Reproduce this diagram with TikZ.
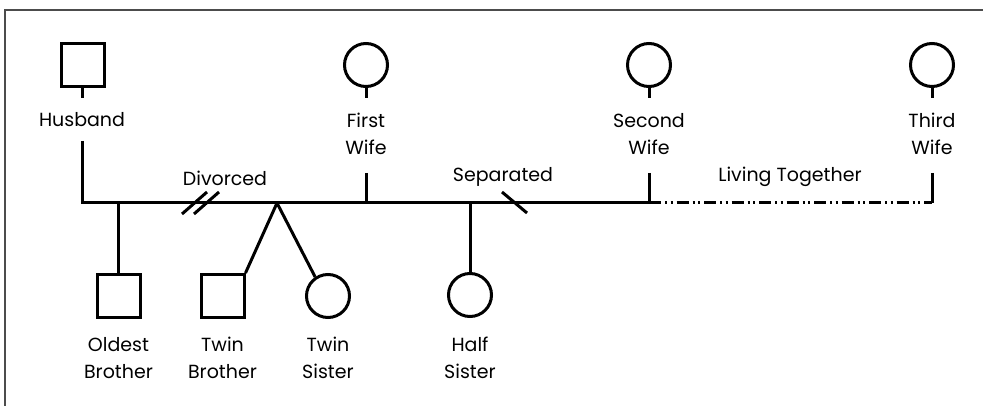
\documentclass[tikz,border=0pt]{standalone}
\usepackage{fontspec}
\setmainfont{Poppins}
\begin{document}
\begin{tikzpicture}[x=1pt,y=-1pt,
  line width=3pt,
  male/.style={draw, rectangle, minimum size=43pt, inner sep=0pt},
  female/.style={draw, circle, minimum size=43pt, inner sep=0pt},
  lbl/.style={align=center, inner sep=0pt, font=\fontsize{19}{27}\selectfont},
  together/.style={dash pattern=on 12pt off 4pt on 2pt off 3.5pt on 2pt off 4pt},
  frame/.style={draw=black!70, line width=1.6pt}]
\useasboundingbox (0,0) rectangle (983,406);
% outer frame (top and left edges)
\draw[frame] (5,406) -- (5,10) -- (983,10);

% parents' generation
\node[male]   (husband) at (82.5,65) {};
\node[female] (wife1)   at (366,65) {};
\node[female] (wife2)   at (649,65) {};
\node[female] (wife3)   at (932,65) {};

\node[lbl] (husbandlbl) at (82,120) {Husband};
\node[lbl] (wife1lbl) at (366,134) {First\\Wife};
\node[lbl] (wife2lbl) at (649,134) {Second\\Wife};
\node[lbl] (wife3lbl) at (932,134) {Third\\Wife};

% short stubs under the symbols
\coordinate (hstub) at (82.5,98);
\coordinate (w1stub) at (366,98);
\coordinate (w2stub) at (649,98);
\coordinate (w3stub) at (932,98);
\draw (husband.south) -- (hstub);
\draw (wife1.south) -- (w1stub);
\draw (wife2.south) -- (w2stub);
\draw (wife3.south) -- (w3stub);

% relationship line
\coordinate (htop) at (82.5,141);
\coordinate (hcorner) at (82.5,203);
\coordinate (w1top) at (366,173);
\coordinate (w1line) at (366,203);
\coordinate (w2top) at (649,173);
\coordinate (w2line) at (649,203);
\coordinate (w3top) at (932,173);
\coordinate (w3line) at (932,203);
\draw[line join=miter] (htop) -- (hcorner) -- (w2line);
\draw (w1top) -- (w1line);
\draw (w2top) -- (w2line);
\draw[together] (w2line) -- (w3line);
\draw (w3top) -- (w3line);

% divorce and separation marks
\coordinate (d1a) at (182,214); \coordinate (d1b) at (207,192);
\coordinate (d2a) at (194,214); \coordinate (d2b) at (219,192);
\draw (d1a) -- (d1b);
\draw (d2a) -- (d2b);
\coordinate (s1a) at (502,192); \coordinate (s1b) at (527,213);
\draw (s1a) -- (s1b);

\node[lbl] (divlbl) at (225,178) {Divorced};
\node[lbl] (seplbl) at (503,177) {Separated};
\node[lbl] (livlbl) at (790,177) {Living Together};

% children
\node[male]   (oldest) at (118.5,296) {};
\node[male]   (tbro)   at (222.5,296) {};
\node[female] (tsis)   at (328,296) {};
\node[female] (hsis)   at (470,295) {};

\coordinate (oldtop) at (118.5,203);
\coordinate (twin) at (277,203);
\coordinate (hsistop) at (470,203);
\draw (oldtop) -- (oldest.north);
\draw (twin) -- (tbro.north east);
\draw (twin) -- (tsis.124);
\draw (hsistop) -- (hsis.north);

\node[lbl] (oldlbl) at (118.5,358) {Oldest\\Brother};
\node[lbl] (tbrolbl) at (222.5,358) {Twin\\Brother};
\node[lbl] (tsislbl) at (328,358) {Twin\\Sister};
\node[lbl] (hsislbl) at (470,358) {Half\\Sister};
\end{tikzpicture}
\end{document}
